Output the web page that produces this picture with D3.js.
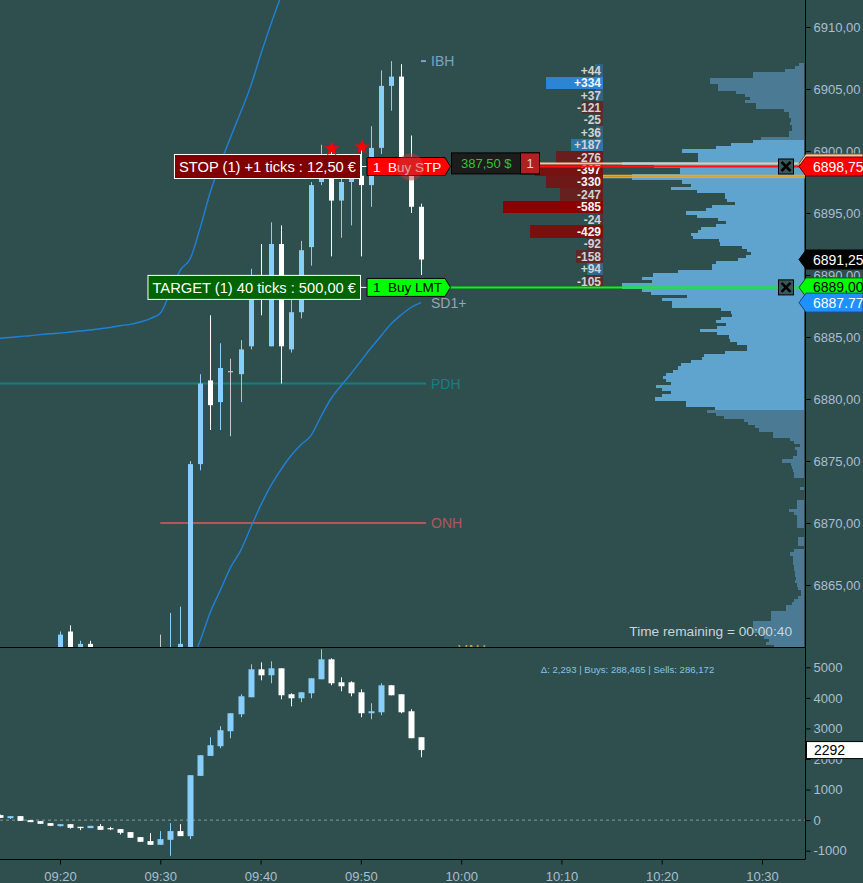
<!DOCTYPE html>
<html><head><meta charset="utf-8">
<script src="https://cdn.jsdelivr.net/npm/d3@7"></script>
<style>
html,body{margin:0;padding:0;background:#2f4f4f;}
svg{display:block;font-family:"Liberation Sans",Arial,sans-serif;}
</style></head><body>
<svg id="chart" width="863" height="883"></svg>
<script>
// ---------------- DATA ----------------
const times = ["09:14","09:15","09:16","09:17","09:18","09:19","09:20","09:21","09:22","09:23",
  "09:24","09:25","09:26","09:27","09:28","09:29","09:30","09:31","09:32","09:33",
  "09:34","09:35","09:36","09:37","09:38","09:39","09:40","09:41","09:42","09:43",
  "09:44","09:45","09:46","09:47","09:48","09:49","09:50","09:51","09:52","09:53",
  "09:54","09:55","09:56"];
const priceOpen = [6857.5,6858.0,6858.25,6858.0,6857.75,6859.5,6858.75,6861.25,6859.25,6860.25,
  6859.0,6859.75,6858.5,6857.25,6856.0,6854.75,6855.5,6855.5,6857.0,6859.75,
  6874.75,6881.5,6879.75,6882.25,6882.0,6884.25,6889.5,6884.25,6892.5,6884.0,
  6887.0,6892.25,6897.5,6898.75,6896.0,6897.5,6898.0,6897.25,6900.25,6905.25,
  6906.0,6898.0,6895.5];
const priceHigh = [6858.5,6858.75,6859.0,6858.5,6860.0,6859.75,6861.25,6861.75,6860.5,6860.5,
  6859.75,6860.0,6858.75,6857.5,6856.25,6856.5,6861.0,6862.75,6863.25,6875.0,
  6882.0,6886.75,6884.5,6883.25,6884.75,6890.5,6892.5,6894.25,6894.0,6888.0,
  6892.75,6897.5,6900.5,6900.5,6898.0,6898.25,6900.75,6902.0,6906.5,6907.25,
  6907.0,6901.25,6895.75];
const priceLow = [6856.75,6857.5,6857.75,6857.25,6857.5,6858.5,6858.5,6859.0,6859.0,6858.75,
  6858.5,6858.25,6857.0,6855.75,6854.5,6854.25,6854.0,6854.75,6856.5,6859.5,
  6874.25,6877.5,6877.5,6877.0,6879.75,6884.0,6886.75,6884.25,6881.25,6883.75,
  6886.5,6890.75,6897.25,6891.5,6893.0,6894.0,6891.5,6895.5,6899.75,6903.25,
  6898.25,6895.0,6890.0];
const priceClose = [6858.0,6858.25,6858.0,6857.75,6859.5,6858.75,6861.0,6859.25,6860.25,6859.0,
  6859.5,6858.5,6857.25,6856.0,6854.75,6854.5,6855.5,6857.0,6860.25,6874.75,
  6881.25,6879.5,6882.5,6882.25,6884.0,6888.75,6888.5,6892.5,6884.25,6887.0,
  6892.0,6897.25,6898.5,6896.0,6897.5,6897.75,6897.25,6900.25,6905.25,6906.0,
  6898.5,6895.5,6891.25];

// cumulative delta candles (lower panel)
const cvdOpen = [163,65,131,0,-33,-98,-196,-131,-218,-261,-196,-261,-294,-392,-556,-686,-807,-644,-359,-523,
  1448,2101,2418,2908,3464,4020,4935,4739,4967,4118,3987,4150,4608,5261,4510,4510,4183,3497,3529,4412,4118,3562,2712];
const cvdHigh = [180,130,131,0,-33,-98,-131,-131,-218,-186,-131,-218,-294,-392,-556,-425,-359,-98,-131,1471,
  2124,2712,3072,3497,4118,5098,5163,5196,4967,4150,4183,4641,5588,5294,4673,4543,4281,3824,4477,4412,4118,3627,2712];
const cvdLow = [70,35,-23,-65,-121,-186,-210,-278,-327,-261,-317,-327,-468,-578,-709,-807,-807,-1167,-523,-621,
  1448,2101,2353,2680,3366,4020,4575,4477,3954,3725,3856,3987,4608,4412,4216,4052,3366,3301,3431,4085,3497,2680,2059];
const cvdClose = [75,130,-23,-65,-121,-186,-131,-252,-261,-186,-317,-294,-415,-578,-709,-807,-621,-359,-523,1471,
  2124,2451,2941,3497,4052,4935,4739,4967,4085,3987,4183,4641,5261,4477,4379,4150,3497,3562,4412,4085,3529,2680,2292];
const totalBuys = 288465, totalSells = 286172;

// VWAP standard deviation bands
const upperBandStart = "09:14";
const upperBand = [6884.90,6884.96,6885.04,6885.10,6885.19,6885.26,6885.32,6885.40,6885.48,6885.56,
  6885.67,6885.77,6885.91,6886.02,6886.21,6886.49,6886.91,6888.65,6890.40,6891.34,
  6893.86,6896.72,6899.00,6901.09,6903.10,6905.19,6907.74,6910.16,6912.40];
const lowerBandStart = "09:33";
const lowerBand = [6858.55,6860.56,6862.82,6864.60,6866.40,6867.75,6869.60,6871.40,6872.98,6874.27,
  6875.40,6876.29,6877.02,6878.55,6880.00,6881.05,6882.02,6883.06,6884.11,6885.08,
  6886.05,6886.77,6887.38,6887.77];

// Volume profile (one value per 0.25 tick, from profileTop downward)
const profileTop = 6907.0, profileTick = 0.25;
const valueAreaHigh = 6900.75, valueAreaLow = 6879.25;
const profileVol = [5,
  9,19,51,51, 94,94,86,86, 68,59,54,59, 48,48,20,15, 15,13,14,12, 12,15,15,43,
  51,73,88,122, 106,106,106,182, 150,124,124,172, 172,122,113,133, 107,79,79,77,
  69,92,98,118, 107,86,78,88, 103,106,113,111, 85,84,62,57, 53,58,66,88,
  92,92,126,151, 162,152,182,182, 162,153,117,142, 132,132,83,73, 72,83,88,78,
  87,104,87,75, 74,67,57,57, 79,100,102,113, 123,126,131,138, 141,138,133,148,
  142,133,142,149, 118,118,89,97, 88,80,60,56, 49,45,31,31, 14,10,4,9,
  7,7,11,22, 13,12,11,10, 10,0,0,0, 4,0,0,0, 7,7,7,15,
  10,7,7,7, 7,0,0,0, 6,6,6,0, 10,14,11,11, 11,10,10,9,
  9,8,9,7, 6,3,3,6, 10,12,18,18, 33,33,33,51, 51,51,51,43,
  40,35,38,30];

// Delta per price row (row p covers p .. p+1)
const deltaPrices = [6906,6905,6904,6903,6902,6901,6900,6899,6898,6897,6896,6895,6894,6893,6892,6891,6890,6889];
const deltaValues = [44,334,37,-121,-25,36,187,-276,-397,-330,-247,-585,-24,-429,-92,-158,94,-105];

// Key levels and orders
const levelIBH = 6907.25, levelPDH = 6881.25, levelONH = 6870.0, onhStart = "09:30";
const stopPrice = 6898.75, targetPrice = 6889.0, positionPrice = 6899.0;
const pocPrice = 6898.0, vwapPrice = 6897.85, lastPrice = 6891.25, sd1Price = 6887.77;
const positionPnL = "387,50 $", positionQty = "1";
const stopText = "STOP (1) +1 ticks : 12,50 €", targetText = "TARGET (1) 40 ticks : 500,00 €";
const signalTimes = ["09:47","09:50"], signalPrices = [6900.25, 6900.4];

const priceTicks = [6910,6905,6900,6895,6890,6885,6880,6875,6870,6865];
const cvdTicks = [5000,4000,3000,2000,1000,0,-1000];
const timeTicks = ["09:20","09:30","09:40","09:50","10:00","10:10","10:20","10:30"];

// ---------------- DRAW ----------------
const BG = "#2f4f4f";
const UP = "#87cefa", DN = "#ffffff", FLAT = "#c8c8c8";
const AXTXT = "#aabed0";
const svg = d3.select("#chart");
svg.append("rect").attr("width",863).attr("height",883).attr("fill",BG);

const parseT = d3.timeParse("%H:%M");
const x = d3.scaleTime().domain([parseT("09:20"), parseT("10:30")]).range([60, 762]);
const y = d3.scaleLinear().domain([6860, 6910]).range([647, 27]);
const yc = d3.scaleLinear().domain([-1000, 5000]).range([850.7, 667.3]);
const AXX = 805.5;

const defs = svg.append("defs");
defs.append("clipPath").attr("id","clipMain").append("rect").attr("x",0).attr("y",0).attr("width",805).attr("height",647.5);
defs.append("clipPath").attr("id","clipLow").append("rect").attr("x",0).attr("y",648.5).attr("width",805).attr("height",210.5);
const gMain = svg.append("g").attr("clip-path","url(#clipMain)");
const gLow = svg.append("g").attr("clip-path","url(#clipLow)");

const lastT = parseT(times[times.length-1]);
const levelEnd = x(lastT) + 5;

// level lines
gMain.append("line").attr("x1",0).attr("x2",levelEnd).attr("y1",y(levelPDH)).attr("y2",y(levelPDH))
  .attr("stroke","#138080").attr("stroke-width",2);
gMain.append("line").attr("x1",x(parseT(onhStart))).attr("x2",levelEnd).attr("y1",y(levelONH)).attr("y2",y(levelONH))
  .attr("stroke","#b05858").attr("stroke-width",2);
gMain.append("line").attr("x1",x(lastT)).attr("x2",levelEnd).attr("y1",y(levelIBH)).attr("y2",y(levelIBH))
  .attr("stroke","#7aa4c6").attr("stroke-width",2);

// bands
const bandLine = d3.line().x(d=>x(d.t)).y(d=>y(d.v)).curve(d3.curveMonotoneX);
const t0u = parseT(upperBandStart), t0l = parseT(lowerBandStart);
const upData = upperBand.map((v,i)=>({t:d3.timeMinute.offset(t0u,i), v}));
const loData = lowerBand.map((v,i)=>({t:d3.timeMinute.offset(t0l,i), v}));
gMain.append("path").attr("d",bandLine(upData)).attr("fill","none").attr("stroke","#1f80d8").attr("stroke-width",1.4);
gMain.append("path").attr("d",bandLine(loData)).attr("fill","none").attr("stroke","#1f80d8").attr("stroke-width",1.4);

// candles
function drawCandles(g, O, Hh, L, C, ys, bw){
  times.forEach((t,i)=>{
    const xc = Math.round(x(parseT(t)));
    const col = C[i] > O[i] ? UP : (C[i] < O[i] ? DN : FLAT);
    g.append("line").attr("x1",xc+0.5).attr("x2",xc+0.5).attr("y1",ys(Hh[i])).attr("y2",ys(L[i]))
      .attr("stroke",col).attr("stroke-width",1);
    const yt = Math.min(ys(O[i]), ys(C[i])), yb = Math.max(ys(O[i]), ys(C[i]));
    g.append("rect").attr("x",xc - Math.floor(bw/2) + (bw%2?0:0.5) ).attr("y",yt)
      .attr("width",bw).attr("height",Math.max(1.2, yb-yt)).attr("fill",col);
  });
}
drawCandles(gMain, priceOpen, priceHigh, priceLow, priceClose, y, 5);

// VAH label (mostly hidden at panel edge)
gMain.append("text").attr("x",458).attr("y",655).attr("font-size",14).attr("fill","#e0a030").text("VAH");

// volume profile
const xv = d3.scaleLinear().domain([0,200]).range([0,200]);
const profG = gMain.append("g").attr("shape-rendering","crispEdges");
profileVol.forEach((v,i)=>{
  if(!v) return;
  const p = profileTop - i*profileTick;
  const inVA = p <= valueAreaHigh && p >= valueAreaLow;
  profG.append("rect").attr("x",803.5 - xv(v)).attr("y",y(p+profileTick/2))
    .attr("width",xv(v)).attr("height",y(p-profileTick/2)-y(p+profileTick/2))
    .attr("fill", inVA ? "#5fa3cf" : "#4a7a94");
});

// delta column
const dw = d3.scaleLinear().domain([0,585]).range([0,99.5]);
const maxPos = d3.max(deltaValues), maxNeg = -d3.min(deltaValues);
const dG = svg.append("g");
deltaValues.forEach((v,i)=>{
  const p = deltaPrices[i];
  const t = v>=0 ? 0.3+0.7*v/maxPos : 0.3+0.7*(-v)/maxNeg;
  const col = d3.interpolateRgb(BG, v>=0 ? "#2c84d4" : "#8b0000")(t);
  dG.append("rect").attr("x",602.5-dw(Math.abs(v))).attr("y",y(p+1)).attr("width",dw(Math.abs(v)))
    .attr("height",y(p)-y(p+1)).attr("fill",col).attr("shape-rendering","crispEdges");
  dG.append("text").attr("x",601).attr("y",(y(p)+y(p+1))/2+4.3).attr("text-anchor","end")
    .attr("font-size",12).attr("font-weight","bold").attr("fill", Math.abs(v)>=300 ? "#f4f4f4" : "#d2d2d2")
    .text((v>0?"+":"")+v);
});

// horizontal order / info lines
svg.append("line").attr("x1",540).attr("x2",805).attr("y1",y(positionPrice)).attr("y2",y(positionPrice)).attr("stroke","#f0c9a0").attr("stroke-width",2);
svg.append("line").attr("x1",450).attr("x2",805).attr("y1",y(stopPrice)).attr("y2",y(stopPrice)).attr("stroke","#ff1010").attr("stroke-width",2);
svg.append("line").attr("x1",603).attr("x2",805).attr("y1",y(pocPrice)).attr("y2",y(pocPrice)).attr("stroke","#ffa500").attr("stroke-width",2);
svg.append("line").attr("x1",603).attr("x2",805).attr("y1",y(vwapPrice)).attr("y2",y(vwapPrice)).attr("stroke","#7db6e0").attr("stroke-width",1.2);
svg.append("line").attr("x1",450).attr("x2",805).attr("y1",y(targetPrice)).attr("y2",y(targetPrice)).attr("stroke","#00ff00").attr("stroke-width",2);

// level texts
function lvlText(p, txt, col){
  svg.append("text").attr("x",431).attr("y",y(p)+5).attr("font-size",14).attr("fill",col).text(txt);
}
lvlText(levelIBH,"IBH","#7aa4c6");
lvlText(sd1Price,"SD1+","#9aa5b0");
lvlText(levelPDH,"PDH","#138080");
lvlText(levelONH,"ONH","#b05858");

// order labels on chart
function orderBox(py, txt, fill){
  const g = svg.append("g");
  const r = g.append("rect").attr("y",py-12).attr("height",24).attr("fill",fill).attr("stroke","#ffffff").attr("stroke-width",1);
  const t = g.append("text").attr("y",py+5.5).attr("font-size",14.7).attr("fill","#ffffff").text(txt);
  const w = t.node().getComputedTextLength();
  const right = 360.5;
  r.attr("x",right - w - 9).attr("width",w+9);
  t.attr("x",right - w - 4.5);
  g.append("line").attr("x1",right).attr("x2",367).attr("y1",py).attr("y2",py).attr("stroke","#ffffff");
}
function orderTag(py, txt, fill, tcol){
  svg.append("path").attr("d",`M367,${py-9} L445,${py-9} L450.5,${py} L445,${py+9} L367,${py+9} Z`)
    .attr("fill",fill).attr("stroke","#000").attr("stroke-width",1);
  svg.append("text").attr("x",373).attr("y",py+5).attr("font-size",13.5).attr("fill",tcol)
    .style("white-space","pre").text(txt);
}
const yS = y(stopPrice), yT = y(targetPrice);
orderBox(yS, stopText, "#800000");
orderTag(yS, "1  Buy STP", "#ff0000", "#ffffff");
orderBox(yT, targetText, "#006400");
orderTag(yT, "1  Buy LMT", "#00ff00", "#000000");

// position P&L box
const yP = y(positionPrice);
svg.append("rect").attr("x",451.5).attr("y",yP-10.5).attr("width",88).attr("height",21).attr("fill","#1c1c1c").attr("stroke","#000");
svg.append("text").attr("x",461).attr("y",yP+5).attr("font-size",13).attr("fill","#33c433").text(positionPnL);
svg.append("rect").attr("x",520.5).attr("y",yP-10.5).attr("width",19).attr("height",21).attr("fill","#b02020").attr("stroke","#000");
svg.append("text").attr("x",530).attr("y",yP+5).attr("text-anchor","middle").attr("font-size",13).attr("fill","#f0d0d0").text(positionQty);

// translucent marker circle
svg.append("circle").attr("cx",410.5).attr("cy",yS+0.5).attr("r",13.5).attr("fill","rgba(190,60,60,0.5)");

// signal stars
signalTimes.forEach((t,i)=>{
  svg.append("path").attr("d",d3.symbol().type(d3.symbolStar).size(75)())
    .attr("transform",`translate(${x(parseT(t))+1},${y(signalPrices[i])+1})`).attr("fill","#ff0000");
});

// close buttons
[yS, yT].forEach(py=>{
  svg.append("rect").attr("x",778.5).attr("y",py-7.5).attr("width",15).attr("height",15).attr("fill","#3a5858").attr("stroke","#000");
  svg.append("path").attr("d",`M781.5,${py-4.5} L790.5,${py+4.5} M790.5,${py-4.5} L781.5,${py+4.5}`).attr("stroke","#000").attr("stroke-width",2.5);
});

// time remaining
svg.append("text").attr("x",792).attr("y",636).attr("text-anchor","end").attr("font-size",13.7).attr("fill","#c8d3dc").text("Time remaining = 00:00:40");

// lower panel
gLow.append("line").attr("x1",0).attr("x2",805).attr("y1",yc(0)).attr("y2",yc(0)).attr("stroke","#8a9a9a").attr("stroke-dasharray","3,3");
drawCandles(gLow, cvdOpen, cvdHigh, cvdLow, cvdClose, yc, 6);
const fmt = d3.format(",");
svg.append("text").attr("x",627.5).attr("y",672.5).attr("text-anchor","middle").attr("font-size",9.6).attr("fill","#87c3e8")
  .text(`Δ: ${fmt(totalBuys-totalSells)} | Buys: ${fmt(totalBuys)} | Sells: ${fmt(totalSells)}`);

// frame lines
svg.append("line").attr("x1",0).attr("x2",805).attr("y1",647.5).attr("y2",647.5).attr("stroke","#000");
svg.append("line").attr("x1",0).attr("x2",805).attr("y1",859.5).attr("y2",859.5).attr("stroke","#000");
svg.append("line").attr("x1",AXX).attr("x2",AXX).attr("y1",0).attr("y2",859.5).attr("stroke","#000");

// axes
function styleAxis(g){
  g.select(".domain").remove();
  g.selectAll(".tick line").attr("stroke","#000");
  g.selectAll(".tick text").attr("fill",AXTXT).attr("font-size",13).attr("font-family","Liberation Sans, Arial, sans-serif");
}
svg.append("g").attr("transform",`translate(${AXX},0)`)
  .call(d3.axisRight(y).tickValues(priceTicks).tickSize(5).tickPadding(3).tickFormat(d=>d.toFixed(2).replace(".",",")))
  .call(styleAxis);
svg.append("g").attr("transform",`translate(${AXX},0)`)
  .call(d3.axisRight(yc).tickValues(cvdTicks).tickSize(5).tickPadding(3).tickFormat(d=>String(d)))
  .call(styleAxis);
svg.append("g").attr("transform","translate(0,859.5)")
  .call(d3.axisBottom(x).tickValues(timeTicks.map(parseT)).tickSize(5).tickPadding(7).tickFormat(d3.timeFormat("%H:%M")))
  .call(styleAxis);

// price tags on axis
function priceTag(py, txt, fill, tcol, stroke){
  svg.append("path").attr("d",`M799,${py} L806,${py-9.5} L863,${py-9.5} L863,${py+9.5} L806,${py+9.5} Z`)
    .attr("fill",fill).attr("stroke",stroke).attr("stroke-width",1);
  svg.append("text").attr("x",813).attr("y",py+5).attr("font-size",14).attr("fill",tcol).text(txt);
}
const f2 = p=>p.toFixed(2).replace(".",",");
priceTag(y(positionPrice), "", "#f0c9a0", "#000", "#6a5030");
priceTag(y(stopPrice), f2(stopPrice), "#ff0000", "#ffffff", "#700000");
priceTag(y(lastPrice), f2(lastPrice), "#000000", "#ffffff", "#000");
priceTag(y(targetPrice), f2(targetPrice), "#00ff00", "#000000", "#006000");
priceTag(y(sd1Price), sd1Price.toFixed(2), "#1e90ff", "#ffffff", "#104880");

// last CVD tag
const lastCvd = cvdClose[cvdClose.length-1];
svg.append("rect").attr("x",806.5).attr("y",yc(lastCvd)-8.5).attr("width",57).attr("height",17).attr("fill","#ffffff").attr("stroke","#000");
svg.append("text").attr("x",814).attr("y",yc(lastCvd)+5).attr("font-size",14).attr("fill","#000").text(String(lastCvd));
</script>
</body></html>
